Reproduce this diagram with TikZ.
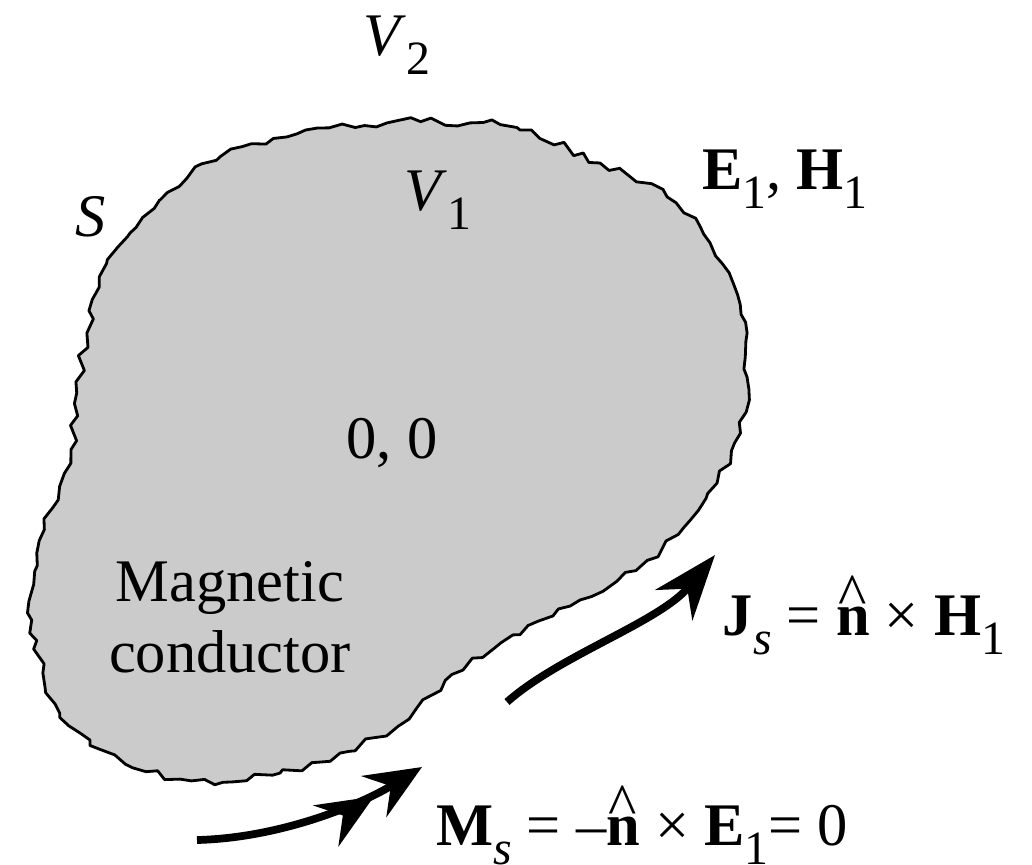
\documentclass[tikz,border=0pt]{standalone}
\usepackage{fontspec}
\setmainfont{Liberation Serif}
\usetikzlibrary{arrows.meta,decorations.pathmorphing}
\definecolor{condgris}{RGB}{203,203,203}
\newcommand{\sbs}[1]{\raisebox{-0.32em}{\fontsize{34pt}{34pt}\selectfont #1}}
\newcommand{\nhat}{\ooalign{\textbf{n}\cr\hidewidth\raisebox{0.32em}{\textasciicircum}\hidewidth\cr}}
\tikzset{
  lbl/.style={inner sep=0pt, font=\fontsize{43pt}{50pt}\selectfont},
  bord/.style={draw=black, line width=2pt, fill=condgris, line join=round,
               decorate, decoration={random steps, segment length=8pt, amplitude=3pt}},
  arr/.style={-{Stealth[length=46pt, width=34pt, inset=15pt]}, line width=5.5pt},
  arrdbl/.style={-{Stealth[length=40pt, width=34pt, inset=14pt] Stealth[length=40pt, width=34pt, inset=14pt]},
                 line width=5.5pt},
}

\begin{document}
\begin{tikzpicture}[x=0.025cm, y=-0.025cm]
        \useasboundingbox (0,0) rectangle (1032,864);
        \pgfmathsetseed{7}
        \path[bord] plot[smooth cycle, tension=0.6] coordinates {
          (130,233) (160,200) (220,157) (287,137) (387,123) (470,123) (520,130)
          (600,163) (667,197) (700,227) (733,283) (747,333) (747,377) (740,433)
          (717,483) (690,520) (647,560) (580,600) (513,635) (463,670) (423,700)
          (397,725) (340,753) (280,773) (223,782) (180,779) (133,767) (90,740)
          (60,713) (43,673) (32,620) (37,553) (53,507) (70,463) (77,393)
          (87,333) (100,277)};
        \node[lbl, anchor=base] (v2) at (397,55) {\textit{V}\sbs{2}};
        \node[lbl, anchor=base] (v1) at (438,210) {\textit{V}\sbs{1}};
        \node[lbl, anchor=base] (s) at (91,236) {\textit{S}};
        \node[lbl, anchor=base] (eh) at (785,189) {\textbf{E}\sbs{1}, \textbf{H}\sbs{1}};
        \node[lbl, anchor=base] (zero) at (392,458) {0, 0};
        \node[lbl, align=center, anchor=base] (mc) at (230,672) {Magnetic\\conductor};
        \node[lbl, anchor=base] (js) at (864,635)
          {\textbf{J}\sbs{\textit{s}} = \nhat{} × \textbf{H}\sbs{1}};
        \node[lbl, anchor=base] (ms) at (642,845)
          {\textbf{M}\sbs{\textit{s}} = –\nhat{} × \textbf{E}\sbs{1}= 0};
        \coordinate (js0) at (507,702);
        \coordinate (js1) at (715,555);
        \coordinate (ms0) at (197,840);
        \coordinate (ms1) at (422,767);
        \draw[arr] (js0) .. controls (560,655) and (660,622) .. (js1);
        \draw[arrdbl] (ms0) .. controls (280,838) and (360,805) .. (ms1);
      \end{tikzpicture}
\end{document}
